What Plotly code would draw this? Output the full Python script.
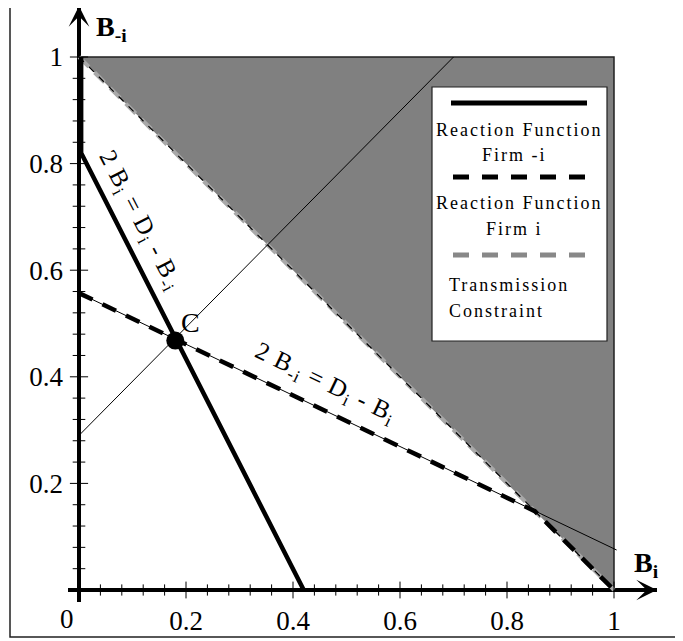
import plotly.graph_objects as go

# ---------------- data ----------------
# Reaction function of firm -i (solid): vertical part on the axis, then the line 2B_i = D_i - B_-i
firm_neg_i_x = [0.0, 0.0, 0.42]
firm_neg_i_y = [1.0, 0.82, 0.0]

# Reaction function of firm i (dashed): 2B_-i = D_i - B_i, then along the constraint
firm_i_x = [0.0, 0.852, 1.0]
firm_i_y = [0.557, 0.148, 0.0]

# thin full line 2B_-i = D_i - B_i
thin_i_x = [0.0, 1.005]
thin_i_y = [0.557, 0.075]

# thin 45-degree line through C
diag_x = [0.0, 0.70]
diag_y = [0.29, 1.0]

# Transmission constraint B_i + B_-i = 1 and the infeasible region
constraint_x = [0.0, 1.0]
constraint_y = [1.0, 0.0]
region_x = [0.0, 1.0, 1.0, 0.0]
region_y = [1.0, 1.0, 0.0, 1.0]

# Equilibrium C
c_x = [0.18]
c_y = [0.468]

# axis ticks
major_ticks = [0.2, 0.4, 0.6, 0.8, 1.0]
major_labels = ["0.2", "0.4", "0.6", "0.8", "1"]
minor_ticks = [0.04, 0.08, 0.12, 0.16, 0.24, 0.28, 0.32, 0.36, 0.44, 0.48, 0.52, 0.56,
               0.64, 0.68, 0.72, 0.76, 0.84, 0.88, 0.92, 0.96]

# ---------------- layout geometry (reference pixels) ----------------
OFF = 8                                   # page body margin
W, H = 683 - OFF, 641 - OFF
PL, PR, PT, PB = 68, 657, 8, 602          # plot area in reference px
X0PX, XSC = 79, 535.0                     # px of x=0, px per unit
Y0PX, YSC = 590, 533.0                    # px of y=0, px per unit


def dx(px):
    return (px - X0PX) / XSC


def dy(py):
    return (Y0PX - py) / YSC


def px_(px):
    return (px - PL) / (PR - PL)


def py_(py):
    return (PB - py) / (PB - PT)


SERIF = "Liberation Serif"
GRAY = "#808080"

fig = go.Figure()

# infeasible (gray) region
fig.add_trace(go.Scatter(x=region_x, y=region_y, fill="toself", fillcolor=GRAY,
                         mode="none", hoverinfo="skip", showlegend=False))
# its top and right edges
fig.add_trace(go.Scatter(x=[region_x[0], region_x[1], region_x[2]],
                         y=[region_y[0], region_y[1], region_y[2]],
                         mode="lines", line=dict(color="#202020", width=1.5),
                         hoverinfo="skip", showlegend=False))
# transmission constraint (gray dashed + thin black dashes)
fig.add_trace(go.Scatter(x=constraint_x, y=constraint_y, mode="lines",
                         line=dict(color="#a8a8a8", width=4, dash="14px,8px"),
                         hoverinfo="skip", showlegend=False))
fig.add_trace(go.Scatter(x=constraint_x, y=constraint_y, mode="lines",
                         line=dict(color="black", width=1.2, dash="7px,7px"),
                         hoverinfo="skip", showlegend=False))
# thin lines
fig.add_trace(go.Scatter(x=diag_x, y=diag_y, mode="lines",
                         line=dict(color="black", width=1),
                         hoverinfo="skip", showlegend=False))
fig.add_trace(go.Scatter(x=thin_i_x, y=thin_i_y, mode="lines",
                         line=dict(color="black", width=1),
                         hoverinfo="skip", showlegend=False))
# reaction functions
fig.add_trace(go.Scatter(x=firm_i_x, y=firm_i_y, mode="lines",
                         line=dict(color="black", width=4.5, dash="15px,11px"),
                         hoverinfo="skip", showlegend=False))
fig.add_trace(go.Scatter(x=[v + 0.004 if i < 2 else v for i, v in enumerate(firm_neg_i_x)],
                         y=firm_neg_i_y, mode="lines",
                         line=dict(color="black", width=4.5),
                         hoverinfo="skip", showlegend=False))
# axis ticks on the axis lines
fig.add_trace(go.Scatter(x=minor_ticks, y=[0] * len(minor_ticks), mode="markers",
                         marker=dict(symbol="line-ns", size=8, line=dict(color="black", width=1)),
                         hoverinfo="skip", showlegend=False, cliponaxis=False))
fig.add_trace(go.Scatter(x=major_ticks, y=[0] * len(major_ticks), mode="markers",
                         marker=dict(symbol="line-ns", size=12, line=dict(color="black", width=1)),
                         hoverinfo="skip", showlegend=False, cliponaxis=False))
fig.add_trace(go.Scatter(x=[0] * len(minor_ticks), y=minor_ticks, mode="markers",
                         marker=dict(symbol="line-ew", size=9, line=dict(color="black", width=1)),
                         hoverinfo="skip", showlegend=False, cliponaxis=False))
fig.add_trace(go.Scatter(x=[0] * len(major_ticks), y=major_ticks, mode="markers",
                         marker=dict(symbol="line-ew", size=13, line=dict(color="black", width=1)),
                         hoverinfo="skip", showlegend=False, cliponaxis=False))
# equilibrium point
fig.add_trace(go.Scatter(x=c_x, y=c_y, mode="markers",
                         marker=dict(color="black", size=18),
                         hoverinfo="skip", showlegend=False))

shapes = []
# legend box
shapes.append(dict(type="rect", xref="x", yref="y", x0=dx(432), x1=dx(607), y0=dy(341), y1=dy(87),
                   fillcolor="white", line=dict(color="#202020", width=1.2), layer="above"))
shapes.append(dict(type="line", xref="x", yref="y", x0=dx(451), x1=dx(587), y0=dy(103), y1=dy(103),
                   line=dict(color="black", width=5), layer="above"))
shapes.append(dict(type="line", xref="x", yref="y", x0=dx(453), x1=dx(587), y0=dy(177), y1=dy(177),
                   line=dict(color="black", width=5, dash="16px,13px"), layer="above"))
shapes.append(dict(type="line", xref="x", yref="y", x0=dx(453), x1=dx(587), y0=dy(255), y1=dy(255),
                   line=dict(color="#888888", width=5, dash="16px,13px"), layer="above"))
# outer frame
shapes.append(dict(type="rect", xref="paper", yref="paper", x0=px_(10), x1=px_(676),
                   y0=py_(637), y1=py_(-3), line=dict(color="#202020", width=1.5),
                   fillcolor="rgba(0,0,0,0)", layer="above"))

ann = []


def text(x, y, s, size, **kw):
    d = dict(x=x, y=y, xref="x", yref="y", text=s, showarrow=False,
             font=dict(family=SERIF, size=size, color="black"))
    d.update(kw)
    ann.append(d)


SP = '<span style="letter-spacing:2px">%s</span>'
text(dx(519), dy(130), SP % "Reaction Function", 18)
text(dx(514), dy(155), SP % "Firm -i", 18)
text(dx(519), dy(203), SP % "Reaction Function", 18)
text(dx(514), dy(229), SP % "Firm i", 18)
text(dx(447), dy(285), SP % "Transmission", 18, xanchor="left")
text(dx(447), dy(311), SP % "Constraint", 18, xanchor="left")

# equation labels
EQ = '<span style="letter-spacing:1px">%s</span>'
text(dx(140), dy(220), EQ % "2 B<sub>i</sub> = D<sub>i</sub> - B<sub>-i</sub>", 25, textangle=62.6)
text(dx(325), dy(383), EQ % "2 B<sub>-i</sub> = D<sub>i</sub> - B<sub>i</sub>", 25, textangle=25.7)
text(dx(190), dy(322), "C", 28)

# axis titles
text(dx(94), dy(28), "<b>B</b><sub><b>-i</b></sub>", 28, xanchor="left")
text(dx(632), dy(564), "<b>B</b><sub><b>i</b></sub>", 28, xanchor="left")
# origin label (below the plot area -> paper coordinates)
ann.append(dict(x=px_(67), y=py_(619), xref="paper", yref="paper", text="0", showarrow=False,
                xanchor="center", yanchor="middle",
                font=dict(family=SERIF, size=27, color="black")))

# axis arrows
ann.append(dict(x=dx(657), y=0, ax=dx(630), ay=0, xref="x", yref="y", axref="x", ayref="y",
                text="", showarrow=True, arrowhead=3, arrowsize=2.3, arrowwidth=1.5,
                arrowcolor="black"))
ann.append(dict(x=0, y=dy(6), ax=0, ay=dy(30), xref="x", yref="y", axref="x", ayref="y",
                text="", showarrow=True, arrowhead=3, arrowsize=2.3, arrowwidth=1.5,
                arrowcolor="black"))

axis_common = dict(showgrid=False, zeroline=True, zerolinecolor="black", zerolinewidth=4,
                   showline=False, ticks="", tickvals=major_ticks, ticktext=major_labels,
                   tickfont=dict(family=SERIF, size=27, color="black"), fixedrange=True)

fig.update_layout(
    width=W, height=H, autosize=False,
    margin=dict(l=PL - OFF, r=W - (PR - OFF), t=PT - OFF, b=H - (PB - OFF), pad=0),
    paper_bgcolor="white", plot_bgcolor="white",
    xaxis=dict(range=[dx(PL), dx(PR)], **axis_common),
    yaxis=dict(range=[dy(PB), dy(PT)], ticklabelstandoff=4, **axis_common),
    shapes=shapes, annotations=ann, showlegend=False,
)

fig.write_html("out.html")
